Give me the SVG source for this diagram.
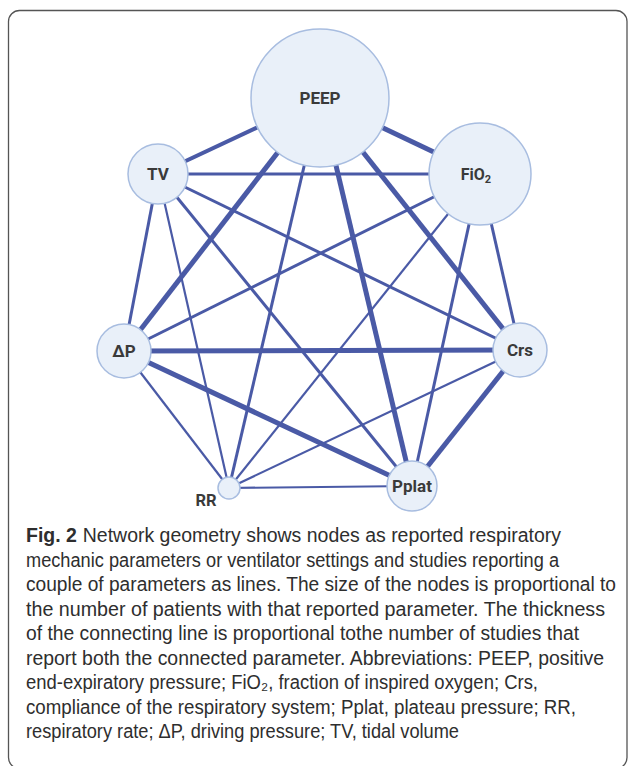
<svg xmlns="http://www.w3.org/2000/svg" width="629" height="766" viewBox="0 0 629 766">
<style>
.e{stroke:#4a5aa6;stroke-linecap:butt;fill:none}
.w5{stroke-width:5}
.w4{stroke-width:4}
.w3{stroke-width:3}
.w2{stroke-width:2.2}
.n{fill:#e9f0f9;stroke:#a8bde0;stroke-width:1.5}
.lb{font-family:Roboto,"Liberation Sans",sans-serif;font-weight:bold;fill:#3a3a3a;text-anchor:middle}
.cap{font-family:"Liberation Sans",Arial,sans-serif;font-size:19.5px;fill:#2e2e2e}
</style>
<rect x="8.5" y="10.5" width="618.5" height="758" rx="11" fill="#fff" stroke="#555" stroke-width="1.3"/>
<g id="connectors">
<line class="e w4" x1="158" y1="174" x2="320" y2="98"/>
<line class="e w3" x1="158" y1="174" x2="480" y2="174"/>
<line class="e w3" x1="158" y1="174" x2="124" y2="351"/>
<line class="e w2" x1="158" y1="174" x2="229" y2="488"/>
<line class="e w3" x1="158" y1="174" x2="520" y2="350"/>
<line class="e w3" x1="158" y1="174" x2="412" y2="486"/>
<line class="e w5" x1="320" y1="98" x2="480" y2="174"/>
<line class="e w5" x1="320" y1="98" x2="124" y2="351"/>
<line class="e w3" x1="320" y1="98" x2="229" y2="488"/>
<line class="e w5" x1="320" y1="98" x2="412" y2="486"/>
<line class="e w5" x1="320" y1="98" x2="520" y2="350"/>
<line class="e w3" x1="480" y1="174" x2="124" y2="351"/>
<line class="e w2" x1="480" y1="174" x2="229" y2="488"/>
<line class="e w3" x1="480" y1="174" x2="412" y2="486"/>
<line class="e w3" x1="480" y1="174" x2="520" y2="350"/>
<line class="e w5" x1="124" y1="351" x2="520" y2="350"/>
<line class="e w5" x1="124" y1="351" x2="412" y2="486"/>
<line class="e w2" x1="124" y1="351" x2="229" y2="488"/>
<line class="e w2" x1="520" y1="350" x2="229" y2="488"/>
<line class="e w5" x1="520" y1="350" x2="412" y2="486"/>
<line class="e w2" x1="229" y1="488" x2="412" y2="486"/>
</g>
<g id="node-peep"><circle class="n" cx="320" cy="98" r="69"/><text class="lb" x="320" y="104" font-size="17">PEEP</text></g>
<g id="node-tv"><circle class="n" cx="158" cy="174" r="30"/><text class="lb" x="158" y="180" font-size="17">TV</text></g>
<g id="node-fio2"><circle class="n" cx="480" cy="174" r="51"/><text class="lb" x="476" y="180" font-size="16">FiO<tspan font-size="11" dy="3">2</tspan></text></g>
<g id="node-dp"><circle class="n" cx="124" cy="351" r="27"/><text class="lb" x="124" y="357" font-size="17">ΔP</text></g>
<g id="node-crs"><circle class="n" cx="520" cy="350" r="27"/><text class="lb" x="520" y="356" font-size="17">Crs</text></g>
<g id="node-rr"><circle class="n" cx="229" cy="488" r="11"/><text class="lb" x="206" y="506" font-size="16.5">RR</text></g>
<g id="node-pplat"><circle class="n" cx="412" cy="486" r="25"/><text class="lb" x="412" y="492" font-size="17">Pplat</text></g>
<g id="caption">
<text class="cap" x="26" y="542" textLength="535" lengthAdjust="spacingAndGlyphs"><tspan font-weight="bold">Fig. 2</tspan><tspan dx="6">Network geometry shows nodes as reported respiratory</tspan></text>
<text class="cap" x="26" y="566.5" textLength="533" lengthAdjust="spacingAndGlyphs">mechanic parameters or ventilator settings and studies reporting a</text>
<text class="cap" x="26" y="591" textLength="590" lengthAdjust="spacingAndGlyphs">couple of parameters as lines. The size of the nodes is proportional to</text>
<text class="cap" x="26" y="615.5" textLength="579" lengthAdjust="spacingAndGlyphs">the number of patients with that reported parameter. The thickness</text>
<text class="cap" x="26" y="640" textLength="553" lengthAdjust="spacingAndGlyphs">of the connecting line is proportional tothe number of studies that</text>
<text class="cap" x="26" y="664.5" textLength="578" lengthAdjust="spacingAndGlyphs">report both the connected parameter. Abbreviations: PEEP, positive</text>
<text class="cap" x="26" y="689" textLength="512" lengthAdjust="spacingAndGlyphs">end-expiratory pressure; FiO₂, fraction of inspired oxygen; Crs,</text>
<text class="cap" x="26" y="713.5" textLength="550" lengthAdjust="spacingAndGlyphs">compliance of the respiratory system; Pplat, plateau pressure; RR,</text>
<text class="cap" x="26" y="738" textLength="433" lengthAdjust="spacingAndGlyphs">respiratory rate; ΔP, driving pressure; TV, tidal volume</text>
</g>
</svg>
